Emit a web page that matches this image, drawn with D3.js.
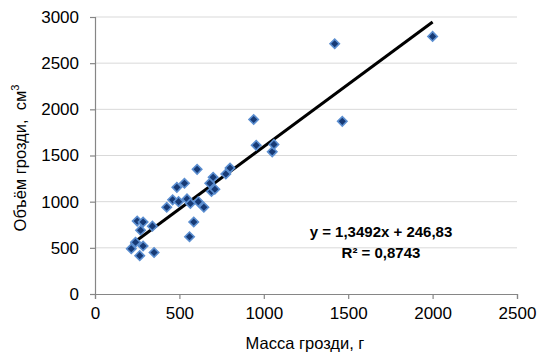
<!DOCTYPE html>
<html>
<head>
<meta charset="utf-8">
<script src="https://cdn.jsdelivr.net/npm/d3@7"></script>
<style>
  body { margin: 0; background: #fff; }
  svg { display: block; font-family: "Liberation Sans", Arial, sans-serif; }
</style>
</head>
<body>
<svg id="chart" width="539" height="358"></svg>
<script>
// масса грозди (г) и объём (см3)
var mass = [215, 240, 250, 265, 270, 285, 285, 340, 350, 425, 460, 485, 495, 530, 545, 560, 565, 585,
  605, 612, 645, 680, 690, 700, 710, 775, 800, 940, 955, 1050, 1060, 1420, 1465, 2000];
var volume = [490, 560, 790, 415, 690, 780, 520, 735, 450, 940, 1020, 1155, 1000, 1200, 1030, 620, 980, 780,
  1350, 1000, 940, 1200, 1110, 1265, 1135, 1300, 1365, 1890, 1610, 1540, 1620, 2710, 1870, 2790];
var slope = 1.3492, intercept = 246.83;
var eqLines = ["y = 1,3492x + 246,83", "R² = 0,8743"];
var xTicks = [0, 500, 1000, 1500, 2000, 2500];
var yTicks = [0, 500, 1000, 1500, 2000, 2500, 3000];

var width = 539, height = 358;
var margin = ({left: 95, right: 22, top: 17, bottom: 64});

var svg = d3.select("#chart");

var x = d3.scaleLinear().domain([0, 2500]).range([margin.left, width - margin.right]);
var y = d3.scaleLinear().domain([0, 3000]).range([height - margin.bottom, margin.top]);

// сетка
svg.append("g")
  .selectAll("line")
  .data(yTicks.filter(d => d > 0))
  .enter().append("line")
  .attr("x1", x(0)).attr("x2", x(2500))
  .attr("y1", d => y(d)).attr("y2", d => y(d))
  .attr("stroke", "#d9d9d9")
  .attr("stroke-width", 1);

var xAxis = svg.append("g")
  .attr("transform", `translate(0,${y(0)})`)
  .call(d3.axisBottom(x).tickValues(xTicks).tickSize(5).tickPadding(8).tickFormat(d3.format("d")));
var yAxis = svg.append("g")
  .attr("transform", `translate(${x(0)},0)`)
  .call(d3.axisLeft(y).tickValues(yTicks).tickSize(5).tickPadding(11).tickFormat(d3.format("d")));

[xAxis, yAxis].forEach(g => {
  g.select(".domain").attr("stroke", "#868686").attr("stroke-width", 1.2);
  g.selectAll(".tick line").attr("stroke", "#868686").attr("stroke-width", 1.2);
  g.selectAll(".tick text").attr("font-size", "17px").attr("fill", "#000")
    .attr("font-family", "Liberation Sans, Arial, sans-serif");
});

// линия тренда
var x0 = d3.min(mass), x1 = d3.max(mass);
svg.append("path")
  .attr("d", d3.line()([[x(x0), y(slope * x0 + intercept)], [x(x1), y(slope * x1 + intercept)]]))
  .attr("stroke", "#000")
  .attr("stroke-width", 3)
  .attr("fill", "none");

// точки
var diamond = d3.symbol().type(d3.symbolSquare).size(44);
svg.append("g")
  .selectAll("path")
  .data(mass.map((m, i) => [m, volume[i]]))
  .enter().append("path")
  .attr("d", diamond)
  .attr("transform", d => `translate(${x(d[0])},${y(d[1])}) rotate(45)`)
  .attr("fill", "#173a75")
  .attr("stroke", "#5b8ed0")
  .attr("stroke-width", 1.6);

// уравнение
svg.append("text")
  .attr("x", 381).attr("y", 237)
  .attr("text-anchor", "middle")
  .attr("font-size", "15px")
  .attr("font-weight", "bold")
  .text(eqLines[0]);
svg.append("text")
  .attr("x", 381).attr("y", 258)
  .attr("text-anchor", "middle")
  .attr("font-size", "15px")
  .attr("font-weight", "bold")
  .text(eqLines[1]);

// подписи осей
svg.append("text")
  .attr("x", 305).attr("y", 349)
  .attr("text-anchor", "middle")
  .attr("font-size", "16.5px")
  .text("Масса грозди, г");

var yt = svg.append("text")
  .attr("transform", "translate(26,158) rotate(-90)")
  .attr("text-anchor", "middle")
  .attr("font-size", "16.5px");
yt.append("tspan").text("Объём грозди,\u00a0 см");
yt.append("tspan").attr("font-size", "11px").attr("dy", "-7").text("3");
</script>
</body>
</html>
